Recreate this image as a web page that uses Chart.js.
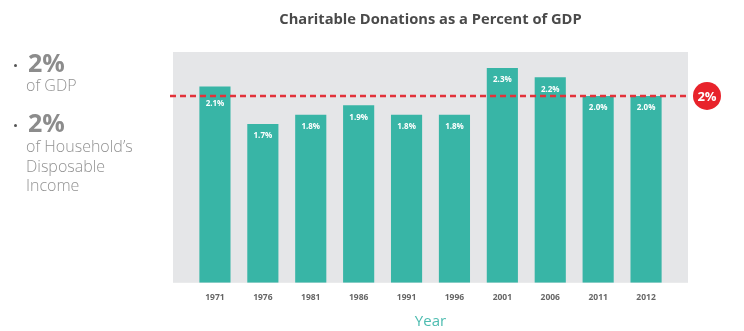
<!DOCTYPE html>
<html>
<head>
<meta charset="utf-8">
<script src="https://cdn.jsdelivr.net/npm/chart.js@4"></script>
<style>
  body { margin: 0; background: #fff; font-family: "Open Sans", sans-serif; }
  #wrap { position: relative; width: 744px; height: 331px; }
  #side { position: absolute; left: 0; top: 0; color: #8c8c8c; }
  #side div { position: absolute; white-space: nowrap; }
  .big { font-size: 25px; line-height: 25px; font-weight: 700; left: 28px; }
  .small { font-size: 16px; line-height: 19.5px; font-weight: 300; left: 26px; color: #929292; }
  .dot { width: 3px; height: 3px; border-radius: 50%; background: #555; left: 14px; }
</style>
</head>
<body>
<div id="wrap">
  <canvas id="chart" width="744" height="331"></canvas>
  <div id="side">
    <div class="dot" style="top: 64px;"></div>
    <div class="big" style="top: 50px;">2%</div>
    <div class="small" style="top: 76px;">of GDP</div>
    <div class="dot" style="top: 124px;"></div>
    <div class="big" style="top: 110px;">2%</div>
    <div class="small" style="top: 137px;">of Household’s<br>Disposable<br>Income</div>
  </div>
</div>
<script>
// Data
const years = ["1971", "1976", "1981", "1986", "1991", "1996", "2001", "2006", "2011", "2012"];
const percentOfGdp = [2.1, 1.7, 1.8, 1.9, 1.8, 1.8, 2.3, 2.2, 2.0, 2.0];
const targetPercent = 2;

// Colors
const barColor = "#38b5a6";
const panelColor = "#e5e6e8";
const targetColor = "#e2323a";

// Gray panel behind the bars
const panelPlugin = {
    id: "panel",
    beforeDatasetsDraw(chart) {
        const { ctx, chartArea } = chart;
        ctx.save();
        ctx.fillStyle = panelColor;
        ctx.fillRect(chartArea.left - 18, chartArea.top, chartArea.width + 36, chartArea.height);
        ctx.restore();
    },
};

// Value labels inside bars, dashed target line and the 2% badge
const overlayPlugin = {
    id: "overlay",
    afterDatasetsDraw(chart) {
        const { ctx, chartArea } = chart;
        const yScale = chart.scales.y;
        const lineY = yScale.getPixelForValue(targetPercent);

        // Labels
        ctx.save();
        ctx.fillStyle = "#fff";
        ctx.font = "bold 8px 'Open Sans'";
        ctx.textAlign = "center";
        ctx.textBaseline = "middle";
        chart.getDatasetMeta(0).data.forEach((bar, i) => {
            let y = bar.y + 12;
            // Keep label clear of the target line
            if (Math.abs(y - lineY) < 4) {
                y = lineY + 8;
            }
            ctx.fillText(percentOfGdp[i].toFixed(1) + "%", bar.x, y);
        });
        ctx.restore();

        // Dashed line
        ctx.save();
        ctx.strokeStyle = targetColor;
        ctx.lineWidth = 2.5;
        ctx.setLineDash([6, 4]);
        ctx.beginPath();
        ctx.moveTo(chartArea.left - 21, lineY);
        ctx.lineTo(chartArea.right + 20, lineY);
        ctx.stroke();
        ctx.restore();

        // Badge
        const cx = chartArea.right + 37;
        ctx.save();
        ctx.fillStyle = "#e8232b";
        ctx.beginPath();
        ctx.arc(cx, lineY, 14, 0, Math.PI * 2);
        ctx.fill();
        ctx.fillStyle = "#fff";
        ctx.font = "bold 13px 'Open Sans'";
        ctx.textAlign = "center";
        ctx.textBaseline = "middle";
        ctx.fillText(targetPercent + "%", cx, lineY + 1);
        ctx.restore();
    },
};

const ctx = document.getElementById("chart").getContext("2d");
new Chart(ctx, {
    type: "bar",
    data: {
        labels: years,
        datasets: [
            {
                data: percentOfGdp,
                backgroundColor: barColor,
                borderWidth: 0,
                categoryPercentage: 1,
                barPercentage: 0.65,
            },
        ],
    },
    options: {
        responsive: false,
        animation: false,
        layout: {
            padding: { left: 191, right: 74, top: 0, bottom: 0 },
        },
        scales: {
            x: {
                grid: { display: false, drawTicks: false },
                border: { display: false },
                ticks: {
                    color: "#666",
                    font: { family: "Open Sans", size: 8.5, weight: "bold" },
                    padding: 10,
                },
                title: {
                    display: true,
                    text: "Year",
                    color: "#4dbcb0",
                    font: { family: "Open Sans", size: 15 },
                    padding: { top: 0, bottom: 0 },
                },
            },
            y: {
                display: false,
                min: 0,
                max: 2.47,
            },
        },
        plugins: {
            legend: { display: false },
            tooltip: { enabled: false },
            title: {
                display: true,
                text: "Charitable Donations as a Percent of GDP",
                color: "#4a4a4a",
                font: { family: "Open Sans", size: 14.7, weight: "bold" },
                padding: { top: 11, bottom: 23.4 },
            },
        },
    },
    plugins: [panelPlugin, overlayPlugin],
});
</script>
</body>
</html>
